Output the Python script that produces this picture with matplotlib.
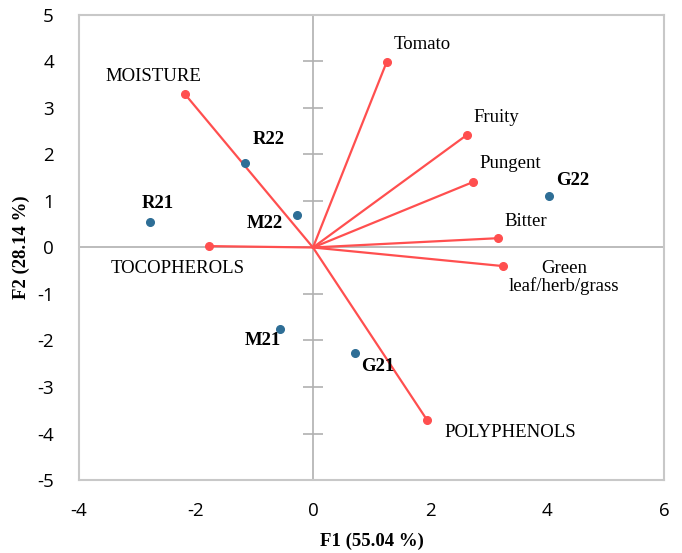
import numpy as np
import matplotlib
matplotlib.use("Agg")
import matplotlib.pyplot as plt

plt.rcParams["axes.unicode_minus"] = False

# variabili (vettori rossi)
var_names = ["MOISTURE", "Tomato", "Fruity", "Pungent", "Bitter",
             "Green\nleaf/herb/grass", "POLYPHENOLS", "TOCOPHEROLS"]
var_x = [-2.19, 1.26, 2.63, 2.74, 3.16, 3.25, 1.95, -1.78]
var_y = [3.30, 3.99, 2.42, 1.41, 0.20, -0.40, -3.71, 0.03]

# osservazioni (punti blu)
obs_names = ["R22", "R21", "M22", "M21", "G21", "G22"]
obs_x = [-1.16, -2.79, -0.27, -0.56, 0.72, 4.03]
obs_y = [1.82, 0.55, 0.70, -1.75, -2.27, 1.11]

xticks = [-4, -2, 0, 2, 4, 6]
yticks = [-5, -4, -3, -2, -1, 0, 1, 2, 3, 4, 5]

red = "#ff4f4f"
blue = "#2e6e96"
grey = "#b0b0b0"
fs = 13.5

fig = plt.figure(figsize=(6.82, 5.53), dpi=100)
ax = fig.add_axes([0.1158, 0.132, 0.8578, 0.8409])
ax.set_xlim(-4, 6)
ax.set_ylim(-5, 5)

# assi interni
ax.axhline(0, color=grey, lw=1.2, zorder=1)
ax.axvline(0, color=grey, lw=1.2, zorder=1)
ax.plot(np.zeros(len(yticks)), yticks, ls="none", marker="_", ms=14,
        mew=1.2, color=grey, zorder=1, clip_on=False)

for s in ax.spines.values():
    s.set_color("#c8c8c8")
    s.set_linewidth(1.5)

# vettori
for vx, vy in zip(var_x, var_y):
    ax.plot([0, vx], [0, vy], color=red, lw=1.6, zorder=2)
ax.plot(var_x, var_y, ls="none", marker="o", ms=5.5, color=red, zorder=3)

# punti
ax.plot(obs_x, obs_y, ls="none", marker="o", ms=5.5, color=blue, zorder=3)

# etichette variabili (offset in pixel)
var_off = {
    "MOISTURE": (-31, 18, "center"),
    "Tomato": (7, 17, "left"),
    "Fruity": (7, 17, "left"),
    "Pungent": (6, 18, "left"),
    "Bitter": (7, 17, "left"),
    "Green\nleaf/herb/grass": (61, -11, "center"),
    "POLYPHENOLS": (17, -12, "left"),
    "TOCOPHEROLS": (-98, -22, "left"),
}
for n, vx, vy in zip(var_names, var_x, var_y):
    dx, dy, ha = var_off[n]
    ax.annotate(n, (vx, vy), xytext=(dx, dy), textcoords="offset pixels",
                ha=ha, va="center", fontsize=fs, family="Liberation Serif",
                linespacing=1.0)

obs_off = {
    "R22": (8, 23), "R21": (-8, 18), "M22": (-50, -9), "M21": (-36, -12),
    "G21": (6, -13), "G22": (7, 15),
}
for n, ox, oy in zip(obs_names, obs_x, obs_y):
    dx, dy = obs_off[n]
    ax.annotate(n, (ox, oy), xytext=(dx, dy), textcoords="offset pixels",
                ha="left", va="center", fontsize=fs, fontweight="bold",
                family="Liberation Serif")

ax.set_xticks(xticks)
ax.set_yticks(yticks)
ax.tick_params(length=0, labelsize=13.5)
ax.tick_params(axis="x", pad=16)
ax.tick_params(axis="y", pad=18)
for lab in ax.get_xticklabels() + ax.get_yticklabels():
    lab.set_family("Open Sans")

ax.set_xlabel("F1 (55.04 %)", fontsize=fs, fontweight="bold",
              family="Liberation Serif")
ax.set_ylabel("F2 (28.14 %)", fontsize=fs, fontweight="bold",
              family="Liberation Serif")
ax.xaxis.set_label_coords(0.5, -0.131)
ax.yaxis.set_label_coords(-0.099, 0.5)
ax.xaxis.label.set_va("center")
ax.yaxis.label.set_va("center")

fig.savefig("out.png", dpi=100)
